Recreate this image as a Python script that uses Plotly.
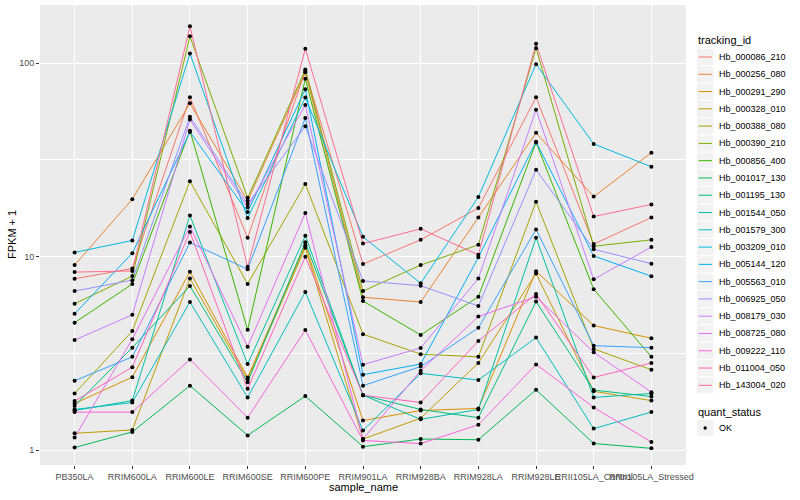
import plotly.graph_objects as go

samples = ["PB350LA", "RRIM600LA", "RRIM600LE", "RRIM600SE", "RRIM600PE", "RRIM901LA",
           "RRIM928BA", "RRIM928LA", "RRIM928LE", "RRII105LA_Control", "RRII105LA_Stressed"]

tracking_ids = ["Hb_000086_210", "Hb_000256_080", "Hb_000291_290", "Hb_000328_010",
                "Hb_000388_080", "Hb_000390_210", "Hb_000856_400", "Hb_001017_130",
                "Hb_001195_130", "Hb_001544_050", "Hb_001579_300", "Hb_003209_010",
                "Hb_005144_120", "Hb_005563_010", "Hb_006925_050", "Hb_008179_030",
                "Hb_008725_080", "Hb_009222_110", "Hb_011004_050", "Hb_143004_020"]

colors = ["#F8766D", "#EA8331", "#D89000", "#C09B00", "#A3A500", "#7CAE00", "#39B600",
          "#00BB4E", "#00BF7D", "#00C1A3", "#00BFC4", "#00BAE0", "#00B0F6", "#35A2FF",
          "#9590FF", "#C77CFF", "#E76BF3", "#FA62DB", "#FF62BC", "#FF6C91"]

# FPKM + 1 per sample (order of samples)
hb_000086_210 = [7.68, 8.67, 66.5, 12.5, 91.0, 9.14, 12.2, 17.8, 66.5, 11.6, 15.9]
hb_000256_080 = [9.04, 19.8, 61.9, 19.4, 89.5, 6.16, 5.82, 15.9, 43.6, 20.4, 34.4]
hb_000291_290 = [1.74, 2.38, 8.35, 2.37, 11.45, 1.42, 1.60, 1.64, 8.4, 4.40, 3.78]
hb_000328_010 = [1.22, 1.27, 7.70, 2.31, 11.1, 1.14, 1.46, 2.82, 8.17, 2.01, 1.80]
hb_000388_080 = [1.96, 4.12, 24.5, 7.22, 23.7, 3.97, 3.13, 3.03, 19.2, 3.33, 2.60]
hb_000390_210 = [5.70, 7.92, 137.4, 20.1, 92.5, 6.63, 9.03, 11.5, 119.4, 11.3, 12.2]
hb_000856_400 = [4.55, 7.21, 44.7, 4.18, 82.9, 5.89, 3.93, 6.20, 38.9, 6.78, 3.03]
hb_001017_130 = [1.03, 1.24, 2.15, 1.19, 1.90, 1.04, 1.14, 1.13, 2.05, 1.08, 1.02]
hb_001195_130 = [1.69, 3.38, 7.05, 2.24, 11.85, 1.92, 1.62, 1.47, 5.85, 2.04, 1.89]
hb_001544_050 = [1.60, 1.80, 16.3, 2.78, 12.8, 1.92, 1.44, 1.62, 12.5, 1.87, 1.96]
hb_001579_300 = [1.62, 1.76, 5.82, 1.87, 6.56, 1.26, 2.49, 2.30, 3.81, 1.29, 1.57]
hb_003209_010 = [10.5, 12.1, 112.0, 15.8, 66.3, 12.65, 7.27, 20.3, 98.6, 38.2, 29.1]
hb_005144_120 = [5.06, 10.4, 44.0, 17.0, 73.2, 2.45, 2.78, 9.9, 39.2, 10.06, 7.91]
hb_005563_010 = [2.28, 3.03, 11.8, 8.6, 52.0, 2.15, 2.70, 4.28, 13.8, 3.46, 3.38]
hb_006925_050 = [6.63, 7.55, 52.8, 18.7, 47.1, 7.48, 7.07, 5.55, 28.1, 10.9, 9.18]
hb_008179_030 = [3.70, 5.0, 51.0, 18.0, 60.7, 2.76, 3.37, 7.70, 57.4, 7.62, 11.2]
hb_008725_080 = [1.16, 3.74, 14.3, 3.42, 16.8, 1.14, 2.57, 4.9, 6.20, 3.20, 1.99]
hb_009222_110 = [1.57, 1.57, 2.94, 1.47, 4.17, 1.12, 1.08, 1.35, 2.77, 1.66, 1.10]
hb_011004_050 = [1.79, 2.68, 13.4, 2.07, 9.97, 1.92, 1.76, 3.66, 6.40, 2.37, 2.82]
hb_143004_020 = [8.31, 8.42, 154.8, 8.85, 118.5, 11.66, 13.9, 10.2, 125.7, 16.1, 18.6]

series = [hb_000086_210, hb_000256_080, hb_000291_290, hb_000328_010, hb_000388_080,
          hb_000390_210, hb_000856_400, hb_001017_130, hb_001195_130, hb_001544_050,
          hb_001579_300, hb_003209_010, hb_005144_120, hb_005563_010, hb_006925_050,
          hb_008179_030, hb_008725_080, hb_009222_110, hb_011004_050, hb_143004_020]

quant_status = ["OK"]
y_ticks = [1, 10, 100]

FONT = "Liberation Sans"
W, H = 800, 500
PL, PR, PT, PB = 40, 686, 5, 465

def px(x):
    return (x - PL) / (PR - PL)

def py(y):
    return (PB - y) / (PB - PT)

fig = go.Figure()
for name, vals, col in zip(tracking_ids, series, colors):
    fig.add_trace(go.Scatter(x=samples, y=vals, mode="lines", name=name,
                             line=dict(color=col, width=1), showlegend=False,
                             hoverinfo="skip"))
for name, vals in zip(tracking_ids, series):
    fig.add_trace(go.Scatter(x=samples, y=vals, mode="markers", name=name,
                             marker=dict(color="black", size=4, symbol="circle"),
                             showlegend=False))

shapes = []
annotations = []

# legend: tracking_id
annotations.append(dict(text="tracking_id", x=px(696), y=py(40.2), xref="paper", yref="paper",
                        xanchor="left", yanchor="middle", showarrow=False,
                        font=dict(family=FONT, size=11, color="black")))
step = 17.28
for i, (name, col) in enumerate(zip(tracking_ids, colors)):
    yc = 57 + i * step
    shapes.append(dict(type="rect", xref="paper", yref="paper", x0=px(697), x1=px(713.5),
                       y0=py(yc - 8.1), y1=py(yc + 8.1), fillcolor="#F2F2F2",
                       line=dict(width=0), layer="above"))
    shapes.append(dict(type="line", xref="paper", yref="paper", x0=px(698.5), x1=px(712),
                       y0=py(yc), y1=py(yc), line=dict(color=col, width=1), layer="above"))
    annotations.append(dict(text=name, x=px(716.5), y=py(yc), xref="paper", yref="paper",
                            xanchor="left", yanchor="middle", showarrow=False,
                            font=dict(family=FONT, size=9, color="black")))

# legend: quant_status
annotations.append(dict(text="quant_status", x=px(696), y=py(412.2), xref="paper", yref="paper",
                        xanchor="left", yanchor="middle", showarrow=False,
                        font=dict(family=FONT, size=11, color="black")))
for j, q in enumerate(quant_status):
    yc = 428 + j * step
    shapes.append(dict(type="rect", xref="paper", yref="paper", x0=px(697), x1=px(713.5),
                       y0=py(yc - 8.1), y1=py(yc + 8.1), fillcolor="#F2F2F2",
                       line=dict(width=0), layer="above"))
    shapes.append(dict(type="circle", xref="paper", yref="paper", x0=px(703.5), x1=px(706.8),
                       y0=py(yc - 1.65), y1=py(yc + 1.65), fillcolor="black",
                       line=dict(width=0), layer="above"))
    annotations.append(dict(text=q, x=px(716.5), y=py(yc), xref="paper", yref="paper",
                            xanchor="left", yanchor="middle", showarrow=False,
                            font=dict(family=FONT, size=9, color="black")))

# axis titles
annotations.append(dict(text="sample_name", x=px((PL + PR) / 2), y=py(487), xref="paper",
                        yref="paper", xanchor="center", yanchor="middle", showarrow=False,
                        font=dict(family=FONT, size=11, color="black")))
annotations.append(dict(text="FPKM + 1", x=px(12), y=py((PT + PB) / 2), xref="paper",
                        yref="paper", xanchor="center", yanchor="middle", showarrow=False,
                        textangle=-90, font=dict(family=FONT, size=11, color="black")))

fig.update_layout(
    width=W, height=H,
    margin=dict(l=PL, r=W - PR, t=PT, b=H - PB),
    paper_bgcolor="white", plot_bgcolor="#EBEBEB",
    font=dict(family=FONT, size=9, color="#4D4D4D"),
    showlegend=False,
    shapes=shapes, annotations=annotations,
    xaxis=dict(type="category", categoryorder="array", categoryarray=samples,
               range=[-0.6, len(samples) - 0.4], showgrid=True, gridcolor="white",
               gridwidth=1.1, zeroline=False, ticks="outside", ticklen=3,
               tickcolor="#333333", tickwidth=1, tickangle=0,
               tickfont=dict(family=FONT, size=9, color="#4D4D4D"), showline=False),
    yaxis=dict(type="log", range=[-0.0775, 2.30], tickvals=y_ticks,
               ticktext=[str(v) for v in y_ticks], showgrid=True, gridcolor="white",
               gridwidth=1.1, zeroline=False, ticks="outside", ticklen=3,
               tickcolor="#333333", tickwidth=1,
               tickfont=dict(family=FONT, size=9, color="#4D4D4D"), showline=False,
               minor=dict(tickvals=[10 ** 0.5, 10 ** 1.5], showgrid=True,
                          gridcolor="white", gridwidth=0.55)),
)

fig.write_html("out.html", config={"displayModeBar": False},
               post_script="document.body.style.margin='0';document.body.style.overflow='hidden';")
